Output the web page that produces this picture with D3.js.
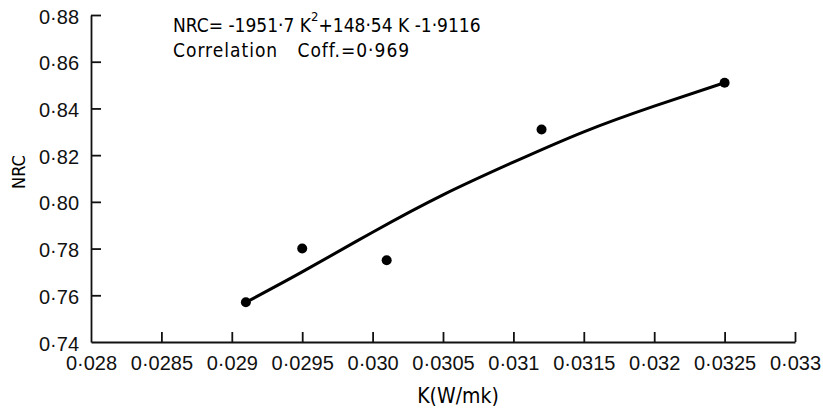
<!DOCTYPE html>
<html>
<head>
<meta charset="utf-8">
<script src="https://cdn.jsdelivr.net/npm/d3@7"></script>
<style>
  body { margin: 0; background: #fff; }
  svg { display: block; font-family: "DejaVu Sans Condensed", "DejaVu Sans", sans-serif; }
  .axis path, .axis line { stroke: #111; stroke-width: 1.8; }
  .axis text { fill: #111; font-size: 20px; }
</style>
</head>
<body>
<svg id="chart" width="823" height="410"></svg>
<script>
'use strict';
// measured points (K in W/mK, NRC)
const kValues = [0.0291, 0.0295, 0.0301, 0.0312, 0.0325];
const nrcValues = [0.757, 0.780, 0.775, 0.831, 0.851];

// fitted curve
const fitK = [0.0291, 0.0295, 0.0300, 0.0305, 0.0310, 0.0315, 0.0320, 0.0325];
const fitNrc = [0.757, 0.770, 0.787, 0.803, 0.817, 0.830, 0.841, 0.851];

const xTicks = [0.028, 0.0285, 0.029, 0.0295, 0.030, 0.0305, 0.031, 0.0315, 0.032, 0.0325, 0.033];
const xTickLabels = ['0·028', '0·0285', '0·029', '0·0295', '0·030', '0·0305', '0·031', '0·0315', '0·032', '0·0325', '0·033'];
const yTicks = [0.74, 0.76, 0.78, 0.80, 0.82, 0.84, 0.86, 0.88];
const yTickLabels = ['0·74', '0·76', '0·78', '0·80', '0·82', '0·84', '0·86', '0·88'];

const svg = d3.select('#chart');
const plot = { left: 91, right: 795, top: 15, bottom: 342 };

const x = d3.scaleLinear().domain([0.028, 0.033]).range([plot.left, plot.right]);
const y = d3.scaleLinear().domain([0.74, 0.88]).range([plot.bottom, plot.top]);

// x axis, ticks pointing up
const xAxis = svg.append('g')
    .attr('class', 'axis')
    .attr('transform', 'translate(0,' + plot.bottom + ')')
    .call(d3.axisBottom(x)
        .tickValues(xTicks)
        .tickFormat((d, i) => xTickLabels[i])
        .tickSize(-10)
        .tickSizeOuter(0));
xAxis.selectAll('text').attr('y', 14).attr('dy', '0.71em');
xAxis.selectAll('.tick').filter(d => d === 0.028).select('line').remove();

// y axis, ticks pointing right
const yAxis = svg.append('g')
    .attr('class', 'axis')
    .attr('transform', 'translate(' + plot.left + ',0)')
    .call(d3.axisLeft(y)
        .tickValues(yTicks)
        .tickFormat((d, i) => yTickLabels[i])
        .tickSize(-10)
        .tickSizeOuter(0));
yAxis.selectAll('text').attr('x', -12).attr('dy', '0.4em');
yAxis.selectAll('.tick').filter(d => d === 0.74).select('line').remove();

// fitted curve
const line = d3.line()
    .x(d => x(d[0]))
    .y(d => y(d[1]))
    .curve(d3.curveNatural);

svg.append('path')
    .datum(fitK.map((k, i) => [k, fitNrc[i]]))
    .attr('d', line)
    .attr('fill', 'none')
    .attr('stroke', '#000')
    .attr('stroke-width', 3);

svg.append('g')
    .selectAll('circle')
    .data(kValues.map((k, i) => [k, nrcValues[i]]))
    .enter()
    .append('circle')
    .attr('cx', d => x(d[0]))
    .attr('cy', d => y(d[1]))
    .attr('r', 5)
    .attr('fill', '#000');

// axis titles
svg.append('text')
    .attr('x', 458)
    .attr('y', 403)
    .attr('text-anchor', 'middle')
    .style('font-size', '21px')
    .text('K(W/mk)');

svg.append('text')
    .attr('transform', 'translate(25,172) rotate(-90)')
    .attr('text-anchor', 'middle')
    .style('font-size', '18px')
    .text('NRC');

// equation box
const eq = svg.append('text')
    .attr('x', 173)
    .attr('y', 32)
    .style('font-size', '19px');
eq.append('tspan').text('NRC= -1951·7 K');
eq.append('tspan').attr('dy', -11).style('font-size', '13px').text('2');
eq.append('tspan').attr('dy', 11).text('+148·54 K -1·9116');

svg.append('text')
    .attr('x', 173)
    .attr('y', 57)
    .style('font-size', '19px')
    .style('letter-spacing', '1px')
    .attr('xml:space', 'preserve')
    .text('Correlation   Coff.=0·969');
</script>
</body>
</html>
